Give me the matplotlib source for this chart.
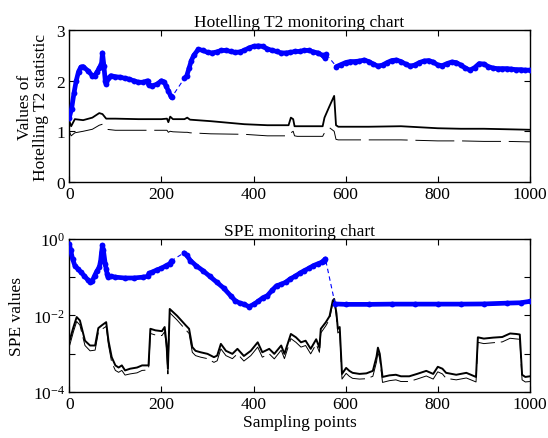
"""
Hotelling T2 / SPE monitoring charts
"""
import numpy as np
import matplotlib
matplotlib.use("Agg")
import matplotlib.pyplot as plt

plt.rcParams['font.family'] = ['Liberation Serif', 'DejaVu Serif']
plt.rcParams['mathtext.fontset'] = 'custom'
plt.rcParams['mathtext.rm'] = 'Liberation Serif'
plt.rcParams['mathtext.it'] = 'Liberation Serif'

# ---- Hotelling T2 chart ----
# blue statistic (nan marks a missing stretch, bridged by a thin dashed line)
t2_x = [0, 5, 10, 15, 20, 25, 30, 40, 50, 55, 60, 65, 70, 72, 75, 78, 80, 85, 90,
        100, 110, 120, 130, 140, 150, 160, 170, 172, 180, 190, 200, 205, 210, 215, 220, 222,
        236,
        250, 255, 260, 265, 270, 280, 290, 300, 310, 320, 330, 340, 350, 360, 370, 380,
        390, 400, 410, 420, 430, 440, 450, 460, 470, 480, 490, 500, 510, 520, 530, 540,
        550, 555, 558,
        568,
        580, 590, 600, 610, 620, 630, 640, 650, 660, 670, 680, 690, 700, 710, 720, 730,
        740, 750, 760, 770, 780, 790, 800, 810, 820, 830, 840, 850, 860, 870, 880, 890,
        900, 910, 920, 930, 940, 950, 960, 970, 980, 990, 1000]
t2_blue = [1.27, 1.45, 1.75, 2.0, 2.18, 2.27, 2.28, 2.2, 2.1, 2.1, 2.17, 2.25, 2.35, 2.55, 2.3, 2.0, 1.93, 2.05, 2.1,
           2.08, 2.07, 2.05, 2.03, 2.0, 1.97, 1.97, 2.0, 1.92, 1.9, 1.93, 2.0, 1.98, 1.9, 1.8, 1.7, 1.67,
           np.nan,
           2.05, 2.1, 2.25, 2.4, 2.5, 2.62, 2.6, 2.56, 2.55, 2.57, 2.6, 2.6, 2.58, 2.56, 2.57, 2.6,
           2.65, 2.68, 2.69, 2.68, 2.63, 2.6, 2.58, 2.55, 2.55, 2.56, 2.58, 2.58, 2.6, 2.6, 2.57, 2.55,
           2.5, 2.45, 2.52,
           np.nan,
           2.28, 2.32, 2.36, 2.38, 2.38, 2.39, 2.41, 2.38, 2.33, 2.29, 2.31, 2.36, 2.4, 2.41, 2.38, 2.33,
           2.29, 2.31, 2.36, 2.39, 2.4, 2.37, 2.31, 2.3, 2.34, 2.37, 2.36, 2.31, 2.25, 2.21, 2.26, 2.34,
           2.33, 2.28, 2.25, 2.24, 2.24, 2.24, 2.23, 2.22, 2.22, 2.21, 2.21]

# control limits
t2_lim_x = [0, 4, 12, 30, 50, 65, 72, 80, 100, 150, 200, 212, 215, 219, 225, 250, 256, 262,
            307, 380, 430, 476, 481, 486, 489, 495, 550, 554, 565, 575, 579, 584, 650,
            720, 760, 800, 850, 900, 950, 1000]
t2_lim_hi = [1.2, 1.1, 1.24, 1.22, 1.27, 1.36, 1.34, 1.25, 1.25, 1.24, 1.24, 1.25, 1.18, 1.29, 1.24, 1.24, 1.27, 1.23,
             1.2, 1.14, 1.12, 1.12, 1.27, 1.24, 1.1, 1.1, 1.1, 1.27, 1.5, 1.7, 1.12, 1.09, 1.09,
             1.1, 1.08, 1.06, 1.05, 1.05, 1.04, 1.03]
t2_lim_lo = [1.0, 0.91, 0.97, 1.0, 1.04, 1.12, 1.14, 1.04, 1.02, 1.02, 1.02, 1.02, 0.98, 1.0, 0.99, 0.98, 0.98, 0.97,
             0.95, 0.94, 0.91, 0.91, 0.97, 1.0, 0.91, 0.9, 0.9, 0.97, 1.07, 1.0, 0.84, 0.83, 0.83,
             0.83, 0.82, 0.81, 0.81, 0.8, 0.8, 0.79]

# ---- SPE chart ----
spe_x = [0, 3, 7, 12, 18, 25, 32, 40, 45, 50, 55, 60, 65, 68, 70, 72, 74, 78, 80, 82, 84, 90,
         100, 120, 140, 160, 170, 173, 180, 190, 200, 210, 218, 222,
         236,
         249, 255, 263, 275, 290, 305, 320, 335, 350, 360, 370, 380, 390, 400, 410, 420, 430,
         440, 450, 460, 470, 480, 490, 500, 510, 520, 530, 540, 548, 552, 556,
         566,
         577, 600, 650, 700, 750, 800, 850, 900, 950, 980, 1000]
spe_blue = [0.74, 0.5, 0.3, 0.2, 0.166, 0.135, 0.11, 0.085, 0.074, 0.081, 0.11, 0.145, 0.18, 0.27, 0.45, 0.68, 0.5, 0.22, 0.166, 0.123, 0.1, 0.105,
            0.1, 0.095, 0.095, 0.1, 0.105, 0.126, 0.135, 0.155, 0.17, 0.2, 0.224, 0.27,
            np.nan,
            0.43, 0.37, 0.27, 0.2, 0.148, 0.105, 0.074, 0.052, 0.033, 0.0245, 0.021, 0.0195, 0.017, 0.0195, 0.0234, 0.029, 0.033,
            0.045, 0.06, 0.065, 0.074, 0.091, 0.105, 0.126, 0.148, 0.17, 0.2, 0.224, 0.245, 0.27, 0.3,
            np.nan,
            0.02, 0.0195, 0.0195, 0.0198, 0.0198, 0.0198, 0.0198, 0.02, 0.021, 0.0215, 0.0234]

spe_lim_x = [0, 1, 9, 16, 23, 34, 45, 56, 63, 71, 80, 85, 92, 100, 107, 114, 121, 132, 147, 158, 172,
             176, 187, 201, 207, 211, 214, 218, 234, 253, 260, 267, 274, 285, 300, 314, 321, 329,
             340, 354, 365, 379, 394, 409, 419, 434, 445, 460, 467, 481, 492, 503, 513, 524, 536,
             543, 546, 557, 565, 572, 575, 580, 583, 587, 592, 601, 608, 615, 630, 645, 659, 667,
             670, 674, 677, 680, 695, 709, 720, 738, 755, 775, 790, 800, 810, 818, 840, 862, 883,
             887, 900, 920, 940, 957, 970, 978, 983, 990, 1000]
spe_lim_hi = [2.7e-3, 2.3e-3, 5.0e-3, 9.1e-3, 7.4e-3, 2.2e-3, 1.65e-3, 1.65e-3, 4.7e-3, 5.6e-3, 6.7e-3, 2.2e-3, 8.2e-4, 5.0e-4, 4.4e-4, 5.0e-4, 3.7e-4, 4.1e-4, 4.4e-4, 5.0e-4, 5.0e-4,
              4.5e-3, 4.1e-3, 3.9e-3, 5.0e-3, 1.85e-3, 4.1e-4, 1.48e-2, 9.8e-3, 5.5e-3, 4.5e-3, 1.5e-3, 1.2e-3, 1.1e-3, 1.0e-3, 8.2e-4, 9.0e-4, 1.82e-3,
              1.2e-3, 1.0e-3, 1.35e-3, 8.8e-4, 1.2e-3, 2.0e-3, 1.1e-3, 1.35e-3, 1.0e-3, 1.65e-3, 1.0e-3, 3.3e-3, 2.7e-3, 2.0e-3, 2.2e-3, 1.35e-3, 2.4e-3,
              1.45e-3, 4.5e-3, 6.7e-3, 9.6e-3, 2.45e-2, 2.7e-2, 1.13e-2, 4.5e-3, 5.0e-3, 3.0e-4, 4.3e-4, 3.6e-4, 3.2e-4, 3.0e-4, 3.1e-4, 3.6e-4, 8.5e-4,
              1.45e-3, 1.0e-3, 5.0e-4, 2.5e-4, 2.75e-4, 2.85e-4, 2.6e-4, 2.6e-4, 3.0e-4, 3.6e-4, 3.0e-4, 4.6e-4, 4.1e-4, 3.2e-4, 2.85e-4, 3.2e-4, 2.5e-4,
              2.7e-3, 2.5e-3, 2.65e-3, 2.75e-3, 3.4e-3, 3.3e-3, 3.2e-3, 2.85e-4, 2.5e-4, 2.6e-4]
spe_lim_lo = [2.0e-3, 1.7e-3, 3.8e-3, 7.0e-3, 5.6e-3, 1.65e-3, 1.2e-3, 1.25e-3, 3.6e-3, 4.4e-3, 5.2e-3, 1.7e-3, 6.0e-4, 3.7e-4, 3.3e-4, 3.7e-4, 2.8e-4, 3.0e-4, 3.2e-4, 3.7e-4, 3.8e-4,
              3.4e-3, 3.1e-3, 3.0e-3, 3.8e-3, 1.4e-3, 3.0e-4, 1.18e-2, 7.6e-3, 4.2e-3, 3.4e-3, 1.1e-3, 9.0e-4, 8.2e-4, 7.5e-4, 6.0e-4, 6.6e-4, 1.35e-3,
              9.0e-4, 7.5e-4, 1.0e-3, 6.5e-4, 9.0e-4, 1.5e-3, 8.2e-4, 1.0e-3, 7.4e-4, 1.25e-3, 7.5e-4, 2.5e-3, 2.0e-3, 1.5e-3, 1.65e-3, 1.0e-3, 1.8e-3,
              1.1e-3, 3.5e-3, 5.4e-3, 8.0e-3, 2.1e-2, 2.5e-2, 9.0e-3, 3.5e-3, 3.9e-3, 2.2e-4, 3.1e-4, 2.6e-4, 2.3e-4, 2.2e-4, 2.25e-4, 2.6e-4, 6.2e-4,
              1.1e-3, 7.4e-4, 3.7e-4, 1.8e-4, 2.0e-4, 2.1e-4, 1.9e-4, 1.9e-4, 2.2e-4, 2.65e-4, 2.2e-4, 3.4e-4, 3.0e-4, 2.3e-4, 2.1e-4, 2.35e-4, 1.85e-4,
              2.0e-3, 1.85e-3, 1.95e-3, 2.05e-3, 2.55e-3, 2.45e-3, 2.4e-3, 2.1e-4, 1.85e-4, 1.9e-4]

x_ticks = [0, 200, 400, 600, 800, 1000]

fig = plt.figure(figsize=(5.48, 4.39), dpi=100)
ax1 = fig.add_axes([0.1265, 0.5835, 0.8405, 0.3455])
ax2 = fig.add_axes([0.1265, 0.1043, 0.8405, 0.3495])


def draw_blue(ax, xs, ys):
    xs = np.asarray(xs, float)
    ys = np.asarray(ys, float)
    ok = ~np.isnan(ys)
    # thin dashed line connects everything (bridges the gaps)
    ax.plot(xs[ok], ys[ok], color='blue', lw=0.8, ls=(0, (4, 3)), zorder=3)
    ax.plot(xs, ys, color='blue', lw=3.4, marker='o', ms=4.2, mew=0,
            solid_capstyle='round', zorder=4)


# top chart
draw_blue(ax1, t2_x, t2_blue)
ax1.plot(t2_lim_x, t2_lim_hi, color='black', lw=1.3)
ax1.plot(t2_lim_x, t2_lim_lo, color='black', lw=0.7, dashes=(40, 8))
ax1.set_xlim(0, 1000)
ax1.set_ylim(0, 3)
ax1.set_yticks([0, 1, 2, 3])
ax1.set_title('Hotelling T2 monitoring chart', fontsize=12.5, pad=3)
ax1.set_ylabel('Values of\nHotelling T2 statistic', fontsize=12.5, linespacing=1.05, labelpad=5)

# bottom chart
draw_blue(ax2, spe_x, spe_blue)
ax2.plot(spe_lim_x, spe_lim_hi, color='black', lw=1.4)
ax2.plot(spe_lim_x, spe_lim_lo, color='black', lw=0.7, dashes=(40, 6))
ax2.set_yscale('log')
ax2.set_xlim(0, 1000)
ax2.set_ylim(1e-4, 1)
ax2.set_yticks([1e-4, 1e-3, 1e-2, 1e-1, 1])
ax2.set_yticklabels([r'$10^{-4}$', '', r'$10^{-2}$', '', r'$10^{0}$'])
ax2.minorticks_off()
ax2.set_title('SPE monitoring chart', fontsize=12.5, pad=3)
ax2.set_ylabel('SPE values', fontsize=12.5, labelpad=6)
ax2.set_xlabel('Sampling points', fontsize=12.5, labelpad=1)

for ax in (ax1, ax2):
    ax.set_xticks(x_ticks)
    ax.tick_params(direction='in', top=True, right=True, labelsize=12.5, length=4, width=0.8, pad=3)
    for sp in ax.spines.values():
        sp.set_linewidth(1.0)

fig.savefig('out.png', dpi=100)
